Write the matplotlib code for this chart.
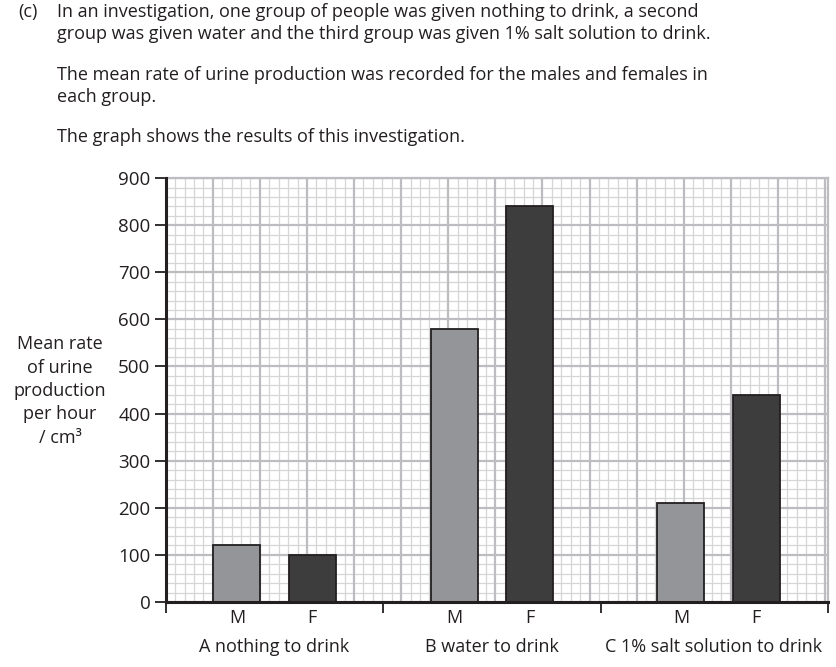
import numpy as np
import matplotlib.pyplot as plt
from matplotlib import transforms

# data
groups = ['A nothing to drink', 'B water to drink', 'C 1% salt solution to drink']
sex_labels = ['M', 'F']
male = [120, 580, 210]
female = [100, 840, 440]
y_ticks = [0, 100, 200, 300, 400, 500, 600, 700, 800, 900]

plt.rcParams['font.family'] = ['Open Sans', 'DejaVu Sans']
txt_col = '#231f20'
fs = 13

fig = plt.figure(figsize=(8.37, 6.67), dpi=100)
ax = fig.add_axes([0.198, 0.0975, 0.791, 0.6355])

# x is measured in grid squares (one square = 100 on the y scale)
x_end = 14.06
centers = np.array([2.31, 6.93, 11.74])   # group middles on the paper
label_x = [2.31, 6.93, 11.64]
bounds = [0, 4.61, 9.24, x_end]
off = 0.8

# graph paper
for v in np.arange(0, 14.01, 0.2):
    major = abs(v - round(v)) < 1e-6
    ax.axvline(v, color='#bdbdc1' if major else '#d6d6d9',
               lw=1.6 if major else 0.9, zorder=0.5 if major else 0)
for v in np.arange(0, 901, 20):
    major = v % 100 == 0
    ax.axhline(v, color='#bdbdc1' if major else '#d6d6d9',
               lw=1.6 if major else 0.9, zorder=0.5 if major else 0)

ax.bar(centers - off, male, width=1.0, color='#939598', edgecolor=txt_col, lw=1.3, zorder=3)
ax.bar(centers + off, female, width=1.0, color='#3d3d3d', edgecolor=txt_col, lw=1.3, zorder=3)

ax.set_xlim(0, x_end)
ax.set_ylim(0, 900)

for s in ['top', 'right']:
    ax.spines[s].set_color('#bdbdc1')
    ax.spines[s].set_linewidth(1.6)
for s in ['left', 'bottom']:
    ax.spines[s].set_color(txt_col)
    ax.spines[s].set_linewidth(2.2)
    ax.spines[s].set_zorder(4)

ax.set_yticks(y_ticks)
ax.tick_params(axis='y', length=8, width=1.3, color=txt_col, labelsize=13.5,
               labelcolor=txt_col, pad=3)

ax.set_xticks(bounds)
ax.set_xticklabels([''] * len(bounds))
ax.tick_params(axis='x', length=8, width=1.3, color=txt_col)

pos = []
labs = []
for c in centers:
    pos += [c - off, c + off]
    labs += sex_labels
ax.set_xticks(pos, minor=True)
ax.set_xticklabels(labs, minor=True)
ax.tick_params(axis='x', which='minor', length=0, labelsize=fs,
               labelcolor=txt_col, pad=5)

trans = transforms.blended_transform_factory(ax.transData, fig.transFigure)
for c, g in zip(label_x, groups):
    fig.text(c, 1 - 647 / 667, g, transform=trans, ha='center', va='center',
             fontsize=fs, color=txt_col)

fig.text(60 / 837, 1 - 391 / 667,
         'Mean rate\nof urine\nproduction\nper hour\n/ cm\u00b3',
         ha='center', va='center', fontsize=fs, color=txt_col,
         linespacing=1.39)

body = [
    (12, '(c)', 18),
    (12, 'In an investigation, one group of people was given nothing to drink, a second', 57),
    (34, 'group was given water and the third group was given 1% salt solution to drink.', 57),
    (75, 'The mean rate of urine production was recorded for the males and females in', 57),
    (97, 'each group.', 57),
    (137, 'The graph shows the results of this investigation.', 57),
]
for y, t, x in body:
    fig.text(x / 837, 1 - y / 667, t, ha='left', va='center', fontsize=fs,
             color=txt_col)

fig.savefig('out.png', dpi=100)
